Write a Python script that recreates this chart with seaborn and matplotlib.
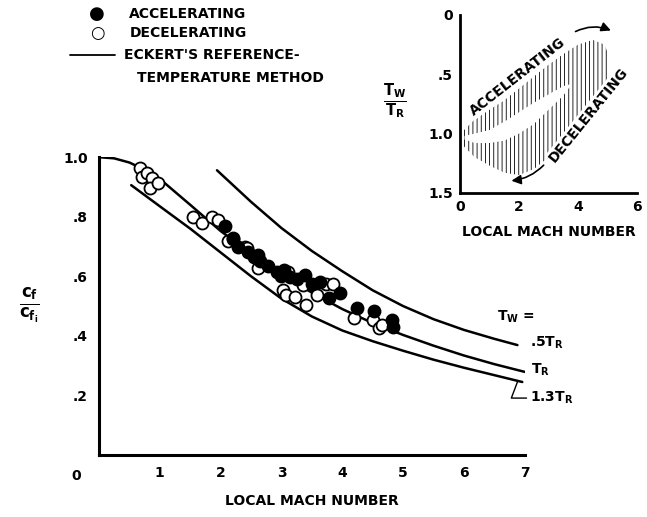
import numpy as np
import pandas as pd
import matplotlib
matplotlib.use("Agg")
import matplotlib.pyplot as plt
import seaborn as sns

# ---------------- data ----------------
acc_mach = [2.07, 2.20, 2.28, 2.45, 2.55, 2.61, 2.65, 2.78, 2.92, 3.00, 3.05, 3.14,
            3.25, 3.38, 3.50, 3.63, 3.79, 3.96, 4.24, 4.53, 4.81, 4.83]
acc_cf = [0.770, 0.725, 0.700, 0.680, 0.665, 0.670, 0.650, 0.635, 0.615, 0.600, 0.620,
          0.597, 0.590, 0.604, 0.575, 0.580, 0.527, 0.544, 0.495, 0.482, 0.453, 0.430]

dec_mach = [0.67, 0.71, 0.79, 0.87, 0.84, 0.97, 1.54, 1.69, 1.86, 1.95, 2.12, 2.20,
            2.40, 2.43, 2.61, 3.02, 3.10, 3.02, 3.08, 3.22, 3.30, 3.35, 3.41, 3.58,
            3.74, 3.85, 4.20, 4.50, 4.61, 4.66]
dec_cf = [0.963, 0.933, 0.946, 0.930, 0.896, 0.913, 0.800, 0.780, 0.800, 0.790, 0.720,
          0.730, 0.700, 0.695, 0.627, 0.614, 0.615, 0.554, 0.537, 0.530, 0.590, 0.570,
          0.503, 0.537, 0.574, 0.575, 0.460, 0.453, 0.426, 0.436]

tr_mach = [0.0, 0.25, 0.5, 0.75, 1.0, 1.5, 2.0, 2.5, 3.0, 3.5, 4.0, 4.5, 5.0, 5.5,
           6.0, 6.5, 7.0]
tr_cf = [1.000, 0.996, 0.982, 0.958, 0.927, 0.840, 0.752, 0.676, 0.607, 0.545, 0.490,
         0.443, 0.403, 0.367, 0.334, 0.305, 0.279]

t13_mach = [0.53, 1.0, 1.5, 2.0, 2.5, 3.0, 3.5, 4.0, 4.5, 5.0, 5.5, 6.0, 6.5, 6.96]
t13_cf = [0.906, 0.835, 0.760, 0.680, 0.600, 0.525, 0.465, 0.418, 0.382, 0.350, 0.320,
          0.293, 0.268, 0.245]

t05_mach = [1.94, 2.5, 3.0, 3.5, 4.0, 4.5, 5.0, 5.5, 6.0, 6.5, 6.88]
t05_cf = [0.956, 0.850, 0.762, 0.685, 0.617, 0.553, 0.500, 0.456, 0.420, 0.390, 0.369]

# inset: hatched band (outer loop) and white hole
band_mach = [0.1, 0.5, 1.0, 1.5, 2.0, 2.5, 3.0, 3.5, 4.0, 4.5, 4.9, 5.05,
             5.05, 4.6, 4.0, 3.5, 3.0, 2.5, 2.0, 1.5, 1.0, 0.5, 0.1]
band_tw = [0.98, 0.88, 0.80, 0.72, 0.62, 0.52, 0.42, 0.33, 0.25, 0.21, 0.25, 0.35,
           0.50, 0.75, 0.95, 1.08, 1.20, 1.30, 1.35, 1.33, 1.27, 1.20, 1.10]
hole_mach = [0.15, 0.5, 1.0, 1.5, 2.0, 2.5, 3.0, 3.5, 3.8,
             3.5, 3.0, 2.5, 2.0, 1.5, 1.0, 0.5, 0.15]
hole_tw = [1.02, 1.00, 0.97, 0.90, 0.82, 0.74, 0.67, 0.60, 0.58,
           0.68, 0.80, 0.92, 1.00, 1.06, 1.08, 1.08, 1.05]

main_xticks = [0, 1, 2, 3, 4, 5, 6, 7]
main_xlabels = ["", "1", "2", "3", "4", "5", "6", "7"]
main_yticks = [0.2, 0.4, 0.6, 0.8, 1.0]
main_ylabels = [".2", ".4", ".6", ".8", "1.0"]
ins_xticks = [0, 2, 4, 6]
ins_xlabels = ["0", "2", "4", "6"]
ins_yticks = [0, 0.5, 1.0, 1.5]
ins_ylabels = ["0", ".5", "1.0", "1.5"]

# ---------------- style ----------------
sns.set_style("white")
plt.rcParams["font.family"] = ["DejaVu Sans"]
plt.rcParams["font.weight"] = "bold"
plt.rcParams["mathtext.fontset"] = "dejavusans"
plt.rcParams["mathtext.default"] = "bf"
plt.rcParams["hatch.linewidth"] = 0.6
for k in ["text.color", "axes.labelcolor", "xtick.color", "ytick.color",
          "axes.edgecolor"]:
    plt.rcParams[k] = "black"

FS = 10
fig = plt.figure(figsize=(6.47, 5.17), dpi=100)
ax = fig.add_axes([0.153, 0.120, 0.658, 0.576])

lw = 1.8
for xs, ys in [(tr_mach, tr_cf), (t13_mach, t13_cf), (t05_mach, t05_cf)]:
    sns.lineplot(x=xs, y=ys, ax=ax, color="black", linewidth=lw, sort=False,
                 estimator=None)

dec_df = pd.DataFrame({"mach": dec_mach, "cf": dec_cf})
acc_df = pd.DataFrame({"mach": acc_mach, "cf": acc_cf})
sns.scatterplot(data=dec_df, x="mach", y="cf", ax=ax, s=75, facecolor="white",
                edgecolor="black", linewidth=1.3, zorder=3)
sns.scatterplot(data=acc_df, x="mach", y="cf", ax=ax, s=75, color="black",
                edgecolor="black", linewidth=1.3, zorder=4)

ax.set_xlim(0, 7)
ax.set_ylim(0, 1.0)
ax.set_xticks(main_xticks)
ax.set_xticklabels(main_xlabels, fontsize=FS, fontweight="bold")
ax.set_yticks(main_yticks)
ax.set_yticklabels(main_ylabels, fontsize=FS, fontweight="bold")
ax.tick_params(direction="in", length=8, width=1.2, pad=8, colors="black")
for s in ["top", "right"]:
    ax.spines[s].set_visible(False)
for s in ["left", "bottom"]:
    ax.spines[s].set_linewidth(2.2)
    ax.spines[s].set_color("black")
ax.set_xlabel("LOCAL MACH NUMBER", fontsize=FS, fontweight="bold", labelpad=10)
ax.set_ylabel("")
ax.text(-0.37, -0.07, "0", fontsize=FS, fontweight="bold", ha="center",
        va="center", clip_on=False)
fig.text(0.046, 0.41, r"$\frac{c_f}{c_{f_i}}$", fontsize=17, ha="center",
         va="center")

# curve labels
ax.text(6.55, 0.463, r"$T_W$ =", fontsize=FS, ha="left", va="center", clip_on=False)
ax.text(7.08, 0.376, r".5$T_R$", fontsize=FS, ha="left", va="center", clip_on=False)
ax.text(7.11, 0.285, r"$T_R$", fontsize=FS, ha="left", va="center", clip_on=False)
ax.text(7.08, 0.191, r"1.3$T_R$", fontsize=FS, ha="left", va="center", clip_on=False)
ax.plot([6.88, 6.78, 7.03], [0.245, 0.191, 0.191], color="black", lw=1.0,
        clip_on=False)

# legend
fig.text(0.150, 0.973, "●", fontsize=13, ha="center", va="center")
fig.text(0.150, 0.936, "○", fontsize=12, ha="center", va="center")
fig.add_artist(plt.Line2D([0.108, 0.178], [0.893, 0.893], color="black", lw=1.3))
fig.text(0.200, 0.973, "ACCELERATING", fontsize=FS, ha="left", va="center")
fig.text(0.200, 0.936, "DECELERATING", fontsize=FS, ha="left", va="center")
fig.text(0.191, 0.893, "ECKERT'S REFERENCE-", fontsize=FS, ha="left", va="center")
fig.text(0.211, 0.850, "TEMPERATURE METHOD", fontsize=FS, ha="left", va="center")

# ---------------- inset ----------------
ins = fig.add_axes([0.711, 0.627, 0.2736, 0.344])
ins.patch.set_alpha(0)
ins.fill(band_mach, band_tw, facecolor="white", edgecolor="black", linewidth=0,
         hatch="||||")
ins.fill(hole_mach, hole_tw, facecolor="white", edgecolor="none")
ins.set_xlim(0, 6)
ins.set_ylim(1.5, 0)
ins.set_xticks(ins_xticks)
ins.set_xticklabels(ins_xlabels, fontsize=FS, fontweight="bold")
ins.set_yticks(ins_yticks)
ins.set_yticklabels(ins_ylabels, fontsize=FS, fontweight="bold")
ins.tick_params(direction="in", length=5, width=1.2, pad=5, colors="black")
for s in ["top", "right"]:
    ins.spines[s].set_visible(False)
for s in ["left", "bottom"]:
    ins.spines[s].set_linewidth(2.0)
    ins.spines[s].set_color("black")
ins.set_xlabel("LOCAL MACH NUMBER", fontsize=FS, fontweight="bold", labelpad=8)
ins.text(-2.2, 0.73, r"$\frac{T_W}{T_R}$", fontsize=15, ha="center", va="center",
         clip_on=False)
ins.text(1.97, 0.52, "ACCELERATING", fontsize=FS, rotation=38, ha="center",
         va="center", bbox=dict(facecolor="white", edgecolor="none", pad=0.5))
ins.text(4.34, 0.84, "DECELERATING", fontsize=FS, rotation=51, ha="center",
         va="center", bbox=dict(facecolor="white", edgecolor="none", pad=0.5))
ins.annotate("", xy=(5.2, 0.14), xytext=(3.83, 0.15),
             arrowprops=dict(arrowstyle="-|>", color="black", lw=1.2,
                             connectionstyle="arc3,rad=-0.25", mutation_scale=14),
             annotation_clip=False)
ins.annotate("", xy=(1.65, 1.4), xytext=(2.9, 1.25),
             arrowprops=dict(arrowstyle="-|>", color="black", lw=1.2,
                             connectionstyle="arc3,rad=-0.2", mutation_scale=14),
             annotation_clip=False)

fig.savefig("out.png", dpi=100)
